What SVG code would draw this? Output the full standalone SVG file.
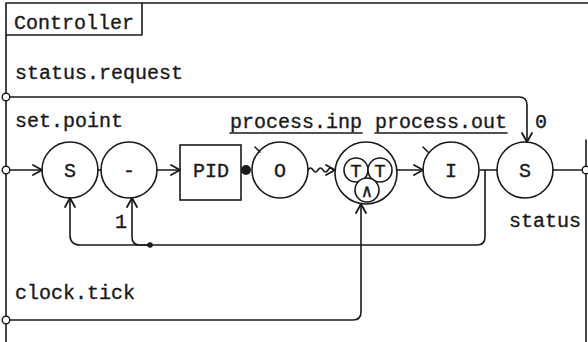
<svg xmlns="http://www.w3.org/2000/svg" width="588" height="342" viewBox="0 0 588 342">
<defs>
<style>
.ln{fill:none;stroke:#1a1a1a;stroke-width:1.6;stroke-linecap:round;stroke-linejoin:round}
.ah{fill:none;stroke:#1a1a1a;stroke-width:1.8;stroke-linecap:round;stroke-linejoin:round}
.nd{fill:#fff;stroke:#1a1a1a;stroke-width:1.6}
.tx{font-family:"Liberation Mono","DejaVu Sans Mono",monospace;font-size:20px;fill:#1a1a1a;stroke:#1a1a1a;stroke-width:0.35}
.c{text-anchor:middle}
.port{fill:#fff;stroke:#1a1a1a;stroke-width:1.4}
</style>
</defs>
<rect width="588" height="342" fill="#fff"/>

<g id="frame">
<path class="ln" d="M6,342 V3 H588"/>
<path class="ln" d="M586,140 V342"/>
<path class="ln" d="M6,35 H142 V3"/>
<text class="tx" x="14" y="29">Controller</text>
</g>

<g id="labels">
<text class="tx" x="15" y="79">status.request</text>
<text class="tx" x="15" y="127">set.point</text>
<text class="tx" x="15" y="299">clock.tick</text>
<text class="tx" x="230" y="128">process.inp</text>
<path class="ln" d="M230,133 H362"/>
<text class="tx" x="375" y="128">process.out</text>
<path class="ln" d="M375,133 H507"/>
<text class="tx" x="535" y="128">0</text>
<text class="tx" x="115" y="228">1</text>
<text class="tx" x="509" y="227">status</text>
</g>

<g id="node-s1">
<circle class="nd" cx="70" cy="170" r="28"/>
<text class="tx c" x="70" y="177">S</text>
</g>
<g id="node-minus">
<circle class="nd" cx="129" cy="170" r="28"/>
<text class="tx c" x="129" y="177">-</text>
</g>
<g id="node-pid">
<rect class="nd" x="180" y="145" width="61" height="55"/>
<text class="tx c" x="211" y="177">PID</text>
</g>
<g id="node-dot">
<circle cx="246" cy="170" r="5" fill="#1a1a1a"/>
</g>
<g id="node-o">
<circle class="nd" cx="280" cy="170" r="28"/>
<path class="ln" d="M255,147 L260,152"/>
<text class="tx c" x="280" y="177">O</text>
</g>
<g id="node-and">
<circle class="nd" cx="366" cy="173" r="31"/>
<circle class="nd" cx="356" cy="170" r="12"/>
<circle class="nd" cx="380" cy="170" r="12"/>
<circle class="nd" cx="367" cy="190" r="12"/>
<text class="tx c" x="356" y="177" style="font-size:19px">T</text>
<text class="tx c" x="380" y="177" style="font-size:19px">T</text>
<text class="tx c" x="367" y="197" style="font-size:18px">∧</text>
</g>
<g id="node-i">
<circle class="nd" cx="451" cy="170" r="28"/>
<path class="ln" d="M423,147 L428,152"/>
<text class="tx c" x="451" y="177">I</text>
</g>
<g id="node-s2">
<circle class="nd" cx="525" cy="170" r="28"/>
<text class="tx c" x="525" y="177">S</text>
</g>

<g id="connectors">
<path class="ln" d="M10,170 H42"/>
<path class="ah" d="M33,165 L42,170 L33,175"/>
<path class="ln" d="M98,170 H101"/>
<path class="ln" d="M157,170 H180"/>
<path class="ah" d="M171,165 L180,170 L171,175"/>
<path class="ln" d="M308,170 q2.5,-4 5,0 t5,0 t5,0 t5,0 t5,0 L335,170"/>
<path class="ah" d="M326,165 L335,170 L326,175"/>
<path class="ln" d="M397,170 H423"/>
<path class="ah" d="M414,165 L423,170 L414,175"/>
<path class="ln" d="M480,170 H497"/>
<path class="ln" d="M553,170 H582"/>
<path class="ln" d="M10,97 H519 Q527,97 527,105 V142"/>
<path class="ah" d="M522,133 L527,142 L532,133"/>
<path class="ln" d="M485,170 V237 Q485,245 477,245 H80 Q70,245 70,235 V198"/>
<path class="ah" d="M65,207 L70,198 L75,207"/>
<path class="ln" d="M150,245 H140 Q132,245 132,237 V198"/>
<path class="ah" d="M127,207 L132,198 L137,207"/>
<circle cx="150" cy="245" r="2.8" fill="#1a1a1a"/>
<path class="ln" d="M10,320 H353 Q361,320 361,312 V204"/>
<path class="ah" d="M356,213 L361,204 L366,213"/>
</g>

<g id="port-status-request"><circle class="port" cx="6" cy="97" r="3.8"/></g>
<g id="port-set-point"><circle class="port" cx="6" cy="170" r="3.8"/></g>
<g id="port-clock-tick"><circle class="port" cx="6" cy="320" r="3.8"/></g>
<g id="port-status"><circle class="port" cx="586" cy="170" r="3.8"/></g>
</svg>
